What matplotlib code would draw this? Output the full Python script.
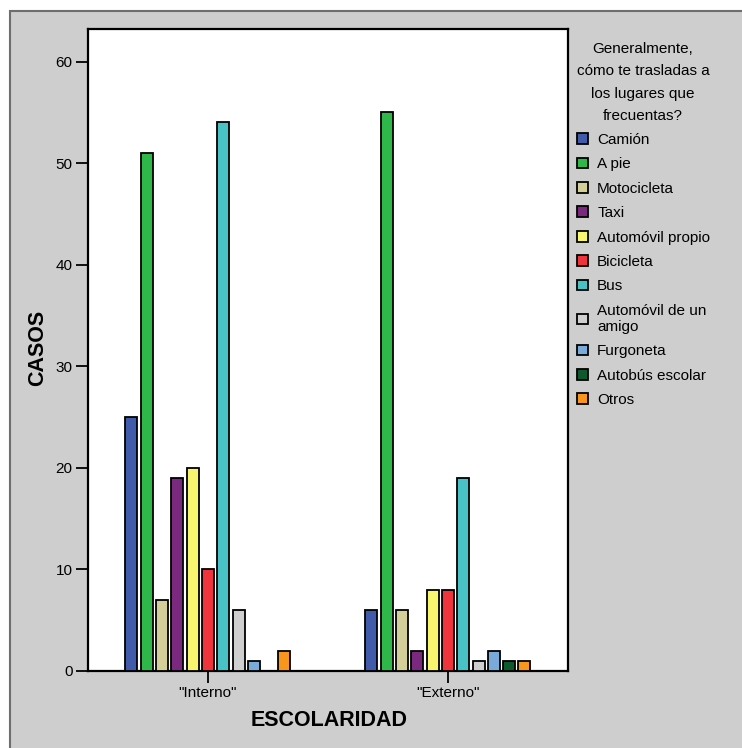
import numpy as np
import matplotlib
matplotlib.use("Agg")
import matplotlib.pyplot as plt
from matplotlib.patches import Rectangle, Patch

plt.rcParams["font.family"] = ["Liberation Sans", "DejaVu Sans"]

# datos
grupos = ['"Interno"', '"Externo"']
categorias = ["Camión", "A pie", "Motocicleta", "Taxi", "Automóvil propio",
              "Bicicleta", "Bus", "Automóvil de un\namigo", "Furgoneta",
              "Autobús escolar", "Otros"]
interno = [25, 51, 7, 19, 20, 10, 54, 6, 1, 0, 2]
externo = [6, 55, 6, 2, 8, 8, 19, 1, 2, 1, 1]
colores = ["#3f5ba9", "#2fb84a", "#d4cf98", "#7a297e", "#faf56f", "#ef343c",
           "#48c2c5", "#cfcfcf", "#7aaad9", "#0c5a2d", "#f8951d"]
titulo_leyenda = "Generalmente,\ncómo te trasladas a\nlos lugares que\nfrecuentas?"

W, H = 742, 748
fig = plt.figure(figsize=(W / 100, H / 100), dpi=100)
fig.patch.set_facecolor("white")

# marco gris de fondo
fig.patches.append(Rectangle((10 / W, -0.05), 1.1, 1 - 11 / H + 0.05,
                             transform=fig.transFigure, facecolor="#cecece",
                             edgecolor="#6e6e6e", linewidth=1.5, zorder=-10))

ax = fig.add_axes([88 / W, (H - 671) / H, 480 / W, (671 - 29) / H])
ax.set_facecolor("white")

x = np.arange(len(grupos))
paso = 15.3 / 240
ancho = 12 / 240
valores = np.array([interno, externo])
for i, (cat, col) in enumerate(zip(categorias, colores)):
    ax.bar(x + (i - 5) * paso, valores[:, i], width=ancho, color=col,
           edgecolor="black", linewidth=1.3, zorder=3)

ax.set_xlim(-0.5, 1.5)
ax.set_ylim(0, 63.2)
ax.set_xticks(x)
ax.set_xticklabels(grupos)
ax.set_yticks(np.arange(0, 61, 10))
ax.tick_params(axis="both", direction="out", length=8.5, width=1.3,
               labelsize=11, pad=2.5)
for sp in ax.spines.values():
    sp.set_linewidth(1.6)
    sp.set_color("black")

fig.text(329 / W, 1 - 721 / H, "ESCOLARIDAD", fontsize=15.5, fontweight="bold",
         ha="center", va="center")
fig.text(38 / W, 1 - 348 / H, "CASOS", fontsize=15.5, fontweight="bold",
         ha="center", va="center", rotation=90)

# leyenda: titulo aparte, centrado
fig.text(643 / W, 1 - 82.5 / H, titulo_leyenda, fontsize=11, ha="center",
         va="center", multialignment="center", linespacing=1.78)

handles = [Patch(facecolor=c, edgecolor="black", linewidth=1.3) for c in colores]
leg = fig.legend(handles, categorias, loc="upper left",
                 bbox_to_anchor=(577 / W, 1 - 133 / H), frameon=False,
                 fontsize=11, handlelength=0.72, handleheight=0.72,
                 handletextpad=0.6, labelspacing=0.68, borderaxespad=0,
                 borderpad=0)

fig.savefig("out.png", dpi=100, facecolor=fig.get_facecolor())
